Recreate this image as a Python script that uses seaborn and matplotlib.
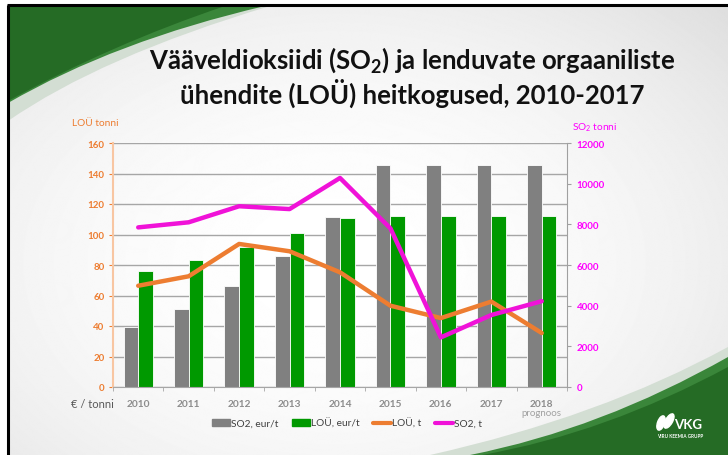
import numpy as np
import pandas as pd
import matplotlib.pyplot as plt
from matplotlib.patches import PathPatch, Ellipse, Patch
from matplotlib.lines import Line2D
from matplotlib.path import Path
import seaborn as sns

# data
years = ['2010', '2011', '2012', '2013', '2014', '2015', '2016', '2017', '2018']
so2_eur = [39.5, 51, 66, 86, 111.5, 145.5, 145.5, 145.5, 145.5]
lou_eur = [76, 83, 92, 101, 111, 112, 112, 112, 112]
lou_t = [66.4, 72.6, 93.8, 89, 75.2, 53.3, 45.2, 56, 35.4]
so2_t = [7850, 8100, 8890, 8750, 10280, 7800, 2440, 3540, 4220]
series_names = ['SO2, eur/t', 'LOÜ, eur/t', 'LOÜ, t', 'SO2, t']

GRAY = '#808080'
GREEN = '#009900'
ORANGE = '#ED7D31'
MAGENTA = '#F012D8'

sns.set_style('white')
plt.rcParams['font.family'] = ['Lato', 'DejaVu Sans']
plt.rcParams['mathtext.fontset'] = 'custom'
plt.rcParams['mathtext.rm'] = 'Lato'
plt.rcParams['mathtext.bf'] = 'Lato:bold'

fig = plt.figure(figsize=(7.28, 4.56), dpi=100)
fig.patch.set_facecolor('white')

# ---- slide background (pixel coords, y down) ----
bg = fig.add_axes([0, 0, 1, 1], zorder=0)
bg.set_xlim(0, 728)
bg.set_ylim(456, 0)
bg.axis('off')
yy, xx = np.mgrid[0:456, 0:728]
r = np.hypot((xx - 330) / 480, (yy - 260) / 330)
grad = 1 - 0.10 * np.clip(r, 0, 1.4) ** 2
bg.imshow(grad, cmap='gray', vmin=0, vmax=1, extent=(8, 728, 456, 7), aspect='auto', zorder=0)


def swoosh(pts, color, z, alpha=1.0):
    codes = [Path.MOVETO, Path.LINETO, Path.CURVE3, Path.CURVE3, Path.CLOSEPOLY]
    bg.add_patch(PathPatch(Path(pts, codes), facecolor=color, edgecolor='none', zorder=z, alpha=alpha))


# top-left
swoosh([(8, 7), (270, 7), (100, 58), (8, 122), (8, 7)], '#d3ded3', 1)
swoosh([(8, 7), (265, 7), (115, 42), (8, 104), (8, 7)], '#3a863a', 2)
swoosh([(8, 7), (225, 7), (112, 45), (8, 102), (8, 7)], '#256b25', 3)
# bottom-right
swoosh([(728, 456), (430, 456), (600, 418), (728, 348), (728, 456)], '#d3ded3', 1)
swoosh([(728, 456), (470, 456), (601, 430), (728, 358), (728, 456)], '#3a863a', 2)
swoosh([(728, 456), (482, 456), (606, 434), (728, 368), (728, 456)], '#256b25', 3)

# black frame
bg.plot([8, 8], [456, 6], color='black', lw=2.2, zorder=5, solid_capstyle='butt')
bg.plot([7, 728], [6, 6], color='black', lw=2.2, zorder=5, solid_capstyle='butt')

# logo
bg.add_patch(Ellipse((661, 424), 7, 15, angle=20, color='white', zorder=6))
bg.add_patch(Ellipse((669, 422), 7, 16, angle=30, color='white', zorder=6))
bg.text(688, 425, 'VKG', color='white', fontsize=9.5, weight='bold', ha='center', va='center', zorder=6)
bg.text(680, 437, 'VIRU KEEMIA GRUPP', color='white', fontsize=3.3, weight='bold', ha='center', va='center', zorder=6)

# ---- chart ----
ax = fig.add_axes([113 / 728, 1 - 388 / 456, 454 / 728, 244 / 456], zorder=2)
ax.set_facecolor('none')

df = pd.DataFrame({
    'year': years * 2,
    'series': [series_names[0]] * len(years) + [series_names[1]] * len(years),
    'value': so2_eur + lou_eur,
})
sns.barplot(data=df, x='year', y='value', hue='series', palette=[GRAY, GREEN],
            width=0.58, saturation=1, edgecolor='white', linewidth=0.6, ax=ax, legend=False)
sns.lineplot(x=np.arange(len(years)), y=lou_t, color=ORANGE, linewidth=3.2, ax=ax, legend=False)

ax2 = ax.twinx()
sns.lineplot(x=np.arange(len(years)), y=so2_t, color=MAGENTA, linewidth=3.2, ax=ax2, legend=False)

ax.set_xlim(-0.5, len(years) - 0.5)
ax.set_ylim(0, 160)
ax.set_yticks(range(0, 161, 20))
ax2.set_ylim(0, 12000)
ax2.set_yticks(range(0, 12001, 2000))
ax.set_xlabel('')
ax.set_ylabel('')
ax2.set_ylabel('')

ax.yaxis.grid(True, color='#A6A6A6', lw=1)
ax.set_axisbelow(True)

ax.spines['top'].set_visible(False)
ax.spines['right'].set_visible(False)
ax.spines['left'].set_color('#F8C6A2')
ax.spines['left'].set_linewidth(1.5)
ax.spines['bottom'].set_color('#A6A6A6')
for s in ['top', 'left', 'bottom']:
    ax2.spines[s].set_visible(False)
ax2.spines['right'].set_color('#A0A0A0')

ax.tick_params(axis='y', color=ORANGE, labelcolor=ORANGE, length=3, labelsize=7, pad=3, left=True)
ax2.tick_params(axis='y', color='#A0A0A0', labelcolor='#FF00FF', length=3, labelsize=7, pad=4, right=True)
ax.set_xticks(np.arange(-0.5, len(years), 1), minor=True)
ax.tick_params(axis='x', which='major', length=0, labelsize=7.3, labelcolor='#8C8C8C', pad=9)
ax.tick_params(axis='x', which='minor', length=3, color='#A6A6A6', bottom=True)
for lbl in ax.get_yticklabels() + ax2.get_yticklabels() + ax.get_xticklabels():
    lbl.set_fontweight('bold')

# legend
handles = [Patch(color=GRAY), Patch(color=GREEN),
           Line2D([], [], color=ORANGE, lw=3), Line2D([], [], color=MAGENTA, lw=3)]
fig.legend(handles, series_names, loc='center', bbox_to_anchor=(347 / 728, 1 - 424 / 456),
           ncol=4, frameon=False, fontsize=7.3, handlelength=1.8, handleheight=0.6,
           handletextpad=0.1, columnspacing=1.3, labelcolor='#404040')

# texts
fig.text(412 / 728, 1 - 60 / 456, r'Vääveldioksiidi (SO$_\mathbf{2}$) ja lenduvate orgaaniliste',
         ha='center', va='center', fontsize=18.5, weight='bold', color='#111111')
fig.text(412 / 728, 1 - 93 / 456, 'ühendite (LOÜ) heitkogused, 2010-2017',
         ha='center', va='center', fontsize=18.5, weight='bold', color='#111111')
fig.text(95 / 728, 1 - 124 / 456, 'LOÜ tonni', ha='center', va='center', fontsize=7.3, color=ORANGE)
fig.text(595 / 728, 1 - 128 / 456, r'SO$_2$ tonni', ha='center', va='center', fontsize=7.3, color='#FF00FF')
fig.text(92 / 728, 1 - 405 / 456, '€ / tonni', ha='center', va='center', fontsize=8, color='#595959')
fig.text(541 / 728, 1 - 414 / 456, 'prognoos', ha='center', va='center', fontsize=7, color='#A0A0A0')

fig.savefig('out.png', dpi=100)
